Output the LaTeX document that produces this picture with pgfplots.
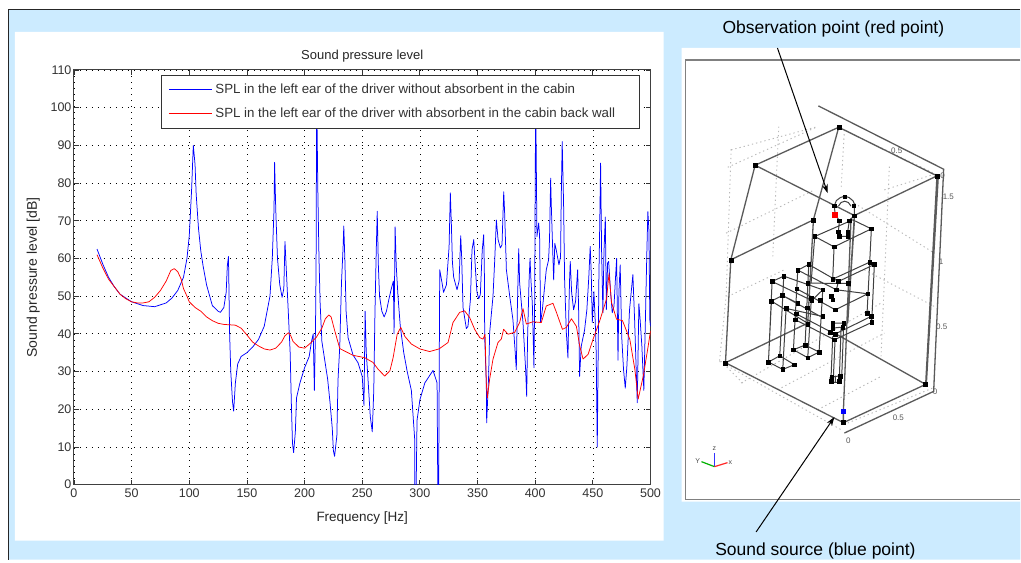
\documentclass[border=0pt]{standalone}
\usepackage{pgfplots}
\pgfplotsset{compat=1.18}
\usepackage{fontspec}
\setmainfont{Liberation Sans}
\usetikzlibrary{arrows.meta}
\definecolor{panelblue}{HTML}{CCEBFF}
\definecolor{wire}{HTML}{5A5A5A}
\definecolor{dotg}{HTML}{B8B8B8}
\begin{document}
\begin{tikzpicture}[x=1pt,y=1pt]
% page layout, in reference pixels
\begin{axis}[at={(0pt,0pt)},anchor=south west,scale only axis,width=1021pt,height=560pt,
  xmin=0,xmax=1021,ymin=0,ymax=560,y dir=reverse,hide axis,clip=false]
\addplot[fill=white,draw=none] coordinates {(0,0)(1021,0)(1021,560)(0,560)(0,0)};
\addplot[fill=panelblue,draw=none] coordinates {(8.5,10)(1021,10)(1021,560)(8.5,560)(8.5,10)};
\addplot[draw=black!85,line width=1pt] coordinates {(8.5,560)(8.5,10)(1021,10)};
\addplot[fill=white,draw=none] coordinates {(15,32)(664,32)(664,541)(15,541)(15,32)};
\addplot[fill=white,draw=none] coordinates {(682,48)(1021,48)(1021,502)(682,502)(682,48)};
\addplot[draw=gray,line width=1.5pt] coordinates {(1021,60)(686,60)(686,500)(1021,500)};
\node[font=\fontsize{17.5}{20}\selectfont] at (axis cs:834,29) {Observation point (red point)};
\node[font=\fontsize{17.5}{20}\selectfont] at (axis cs:816,551) {Sound source (blue point)};
\end{axis}
% 3D model wireframe
\begin{axis}[at={(685pt,110pt)},anchor=south west,scale only axis,width=270pt,height=360pt,
  xmin=0,xmax=810,ymin=0,ymax=1080,y dir=reverse,hide axis,clip=false,unbounded coords=jump]
\addplot[draw=dotg,line width=0.9pt,dash pattern=on 1.3pt off 3pt] coordinates {
 (130,232)(400,110)(nan,nan)(140,178)(125,620)(105,815)(nan,nan)(283,110)(265,500)(nan,nan)(463,112)(780,265)(nan,nan)
 (125,430)(390,300)(nan,nan)(130,620)(300,540)(nan,nan)(105,815)(470,1020)(nan,nan)(170,880)(590,640)(nan,nan)(280,900)(600,730)(nan,nan)
 (615,230)(590,800)(nan,nan)(510,340)(750,490)(nan,nan)(540,540)(750,650)(nan,nan)(175,880)(110,815)(nan,nan)(400,960)(590,860)(nan,nan)
 (480,120)(470,300)(nan,nan)(600,300)(760,250)(nan,nan)(490,1000)(745,895)(nan,nan)(140,180)(400,110)};
\addplot[draw=wire,line width=1.3pt] coordinates {
 (402,48)(778,238)(748,905)(480,1030)(nan,nan)(762,258)(726,884)(nan,nan)
 (212,226)(463,112)(758,258)(510,377)(212,226)(nan,nan)(212,226)(139,510)(123,819)(477,999)(724,884)(758,258)(nan,nan)
 (139,510)(387,390)(463,112)(nan,nan)(387,390)(370,700)(nan,nan)(123,819)(370,700)(nan,nan)(450,730)(724,884)(nan,nan)
 (500,385)(477,965)(477,999)(nan,nan)(510,377)(497,580)(nan,nan)(510,395)(490,700)};
\addplot[draw=black!75,line width=1pt] coordinates {
 (450,347)(456,332)(468,323)(481,319)(494,323)(506,333)(512,347)(nan,nan)(462,349)(470,338)(481,334)(492,338)(500,349)(nan,nan)
 (450,347)(452,374)(465,392)(nan,nan)(510,350)(510,377)(495,392)(nan,nan)(465,392)(462,425)(465,440)(490,440)(490,425)(495,392)(nan,nan)
 (391,440)(449,471)(561,417)(505,390)(391,440)(nan,nan)(449,471)(445,568)(nan,nan)(561,417)(556,517)(nan,nan)(391,440)(380,580)(nan,nan)
 (373,524)(340,541)(456,600)(462,575)(373,524)(nan,nan)(445,568)(556,517)(nan,nan)(462,575)(570,524)(nan,nan)(556,517)(570,524)(562,698)(nan,nan)(556,517)(548,671)(nan,nan)
 (456,600)(550,612)(nan,nan)(337,597)(453,660)(550,612)(nan,nan)(370,580)(491,581)(nan,nan)
 (263,575)(298,559)(415,600)(nan,nan)(263,575)(382,632)(415,600)(nan,nan)(261,634)(294,617)(408,680)(nan,nan)(261,634)(369,700)(nan,nan)(294,617)(340,640)(nan,nan)(305,656)(415,680)(nan,nan)
 (263,575)(252,817)(nan,nan)(298,559)(286,798)(nan,nan)(305,656)(295,839)(nan,nan)(261,634)(252,817)(nan,nan)
 (340,541)(327,780)(nan,nan)(373,524)(362,766)(nan,nan)(415,600)(404,787)(nan,nan)(380,640)(370,804)(nan,nan)
 (252,817)(286,798)(330,825)(295,839)(252,817)(nan,nan)(327,780)(362,766)(404,787)(370,804)(327,780)(nan,nan)
 (333,690)(450,750)(562,698)(nan,nan)(335,672)(452,733)(560,680)(nan,nan)(335,672)(333,690)(nan,nan)(560,680)(562,698)(nan,nan)
 (445,700)(478,700)(475,712)(445,715)(445,700)(nan,nan)(445,740)(440,862)(nan,nan)(470,715)(465,862)(nan,nan)(452,750)(447,862)(nan,nan)(478,700)(472,862)(nan,nan)
 (437,862)(472,858)(470,878)(438,878)(437,862)(nan,nan)(453,858)(453,878)};
\addplot[only marks,mark=square*,mark size=2pt,mark options={black,draw=black}] coordinates {
 (463,112)(212,226)(758,258)(139,510)(387,390)(123,819)(477,999)(724,884)};
\addplot[only marks,mark=square*,mark size=1.8pt,mark options={black,draw=black}] coordinates {
 (450,347)(481,321)(508,347)(510,377)(465,392)(495,392)(462,425)(490,425)(465,440)(490,440)
 (391,440)(449,471)(561,417)(373,524)(340,541)(445,568)(462,575)(556,517)(570,524)(491,581)(456,600)(550,612)
 (370,580)(337,597)(263,575)(298,559)(261,634)(294,617)(305,656)(415,600)(380,625)(382,632)(408,632)(441,620)(445,630)
 (340,640)(369,654)(415,680)(453,660)(335,672)(333,690)(370,703)(560,680)(548,671)(562,698)
 (445,700)(478,700)(445,715)(475,712)(437,727)(452,733)(450,750)(442,862)(467,860)(440,875)(465,875)
 (252,817)(286,798)(330,825)(295,839)(327,780)(362,766)(404,787)(370,804)};
\addplot[only marks,mark=square*,mark size=2.5pt,mark options={red,draw=red}] coordinates {(452,374)};
\addplot[only marks,mark=square*,mark size=2.2pt,mark options={blue,draw=blue}] coordinates {(477,965)};
% axis triad
\addplot[blue!80,line width=1.2pt] coordinates {(90,1131)(90,1090)};
\addplot[green!70!black,line width=1.2pt] coordinates {(90,1131)(51,1116)};
\addplot[red!85,line width=1.2pt] coordinates {(90,1131)(129,1119)};
\node[font=\fontsize{7}{8}\selectfont,text=black!70] at (axis cs:90,1076) {z};
\node[font=\fontsize{7}{8}\selectfont,text=black!70] at (axis cs:40,1114) {Y};
\node[font=\fontsize{7}{8}\selectfont,text=black!70] at (axis cs:138,1118) {x};
\node[font=\fontsize{8}{9}\selectfont,text=black!65] at (axis cs:637,183) {0.5};
\node[font=\fontsize{8}{9}\selectfont,text=black!65] at (axis cs:792,322) {1.5};
\node[font=\fontsize{8}{9}\selectfont,text=black!65] at (axis cs:770,517) {1};
\node[font=\fontsize{8}{9}\selectfont,text=black!65] at (axis cs:772,711) {0.5};
\node[font=\fontsize{8}{9}\selectfont,text=black!65] at (axis cs:752,906) {0};
\node[font=\fontsize{8}{9}\selectfont,text=black!65] at (axis cs:642,985) {0.5};
\node[font=\fontsize{8}{9}\selectfont,text=black!65] at (axis cs:492,1052) {0};
\node[font=\fontsize{8}{9}\selectfont,text=black!65] at (axis cs:775,258) {0};
\draw[black,line width=1pt,-{Stealth[length=9pt,width=6pt]}] (axis cs:279,-126) -- (axis cs:430,310);
\draw[black,line width=1pt,-{Stealth[length=9pt,width=6pt]}] (axis cs:215,1327) -- (axis cs:450,982);
\end{axis}
% the chart
\begin{axis}[at={(74pt,75pt)},anchor=south west,scale only axis,width=577pt,height=415pt,
  xmin=0,xmax=500,ymin=0,ymax=110,
  xtick={0,50,...,500},ytick={0,10,...,110},
  axis line style={draw=black!75,line width=1pt},
  tick style={draw=black!80,line width=0.8pt},
  tick align=inside,major tick length=5pt,
  grid=major,
  major grid style={draw=black,line width=0.7pt,dash pattern=on 1pt off 5pt},
  /pgf/number format/assume math mode=true,
  /pgf/number format/1000 sep={},
  tick label style={font=\fontsize{12.5}{14}\selectfont,text=black!80},
  xticklabel style={yshift=-1pt},
  yticklabel style={xshift=1pt},
  xlabel={Frequency [Hz]},ylabel={Sound pressure level [dB]},
  xlabel style={font=\fontsize{13.5}{15}\selectfont,text=black!85,at={(axis description cs:0.5,-0.08)},anchor=center},
  ylabel style={font=\fontsize{14}{16}\selectfont,text=black!85,at={(axis description cs:-0.0705,0.5)},anchor=center,rotate=0},
  title={Sound pressure level},
  every axis title shift=0pt,
  title style={font=\fontsize{13}{15}\selectfont,text=black!85,at={(axis description cs:0.5,1.034)},anchor=center},
  legend style={at={(axis cs:75.4,108.7)},anchor=north west,draw=black!80,line width=0.9pt,
    font=\fontsize{13.3}{15}\selectfont,text=black!80,
    inner xsep=7pt,inner ysep=7.5pt,row sep=9.5pt,
    nodes={inner xsep=3pt,inner ysep=1.5pt}},
  legend cell align=left,
  legend image code/.code={\draw[#1,line width=1.1pt] (0pt,0.3pt) -- (43pt,0.3pt);},
]
\addplot[blue,line width=0.75pt,line join=round] coordinates {
(20,62.5)(25,58.5)(30,55)(35,52.5)(40,50.5)(50,48.5)(60,47.5)(70,47.2)(80,48.2)(85,49.5)(90,51.5)(95,55)(98,60)(100,66)(102,78)(103.5,90)(105,85)(106,77)(108,68)(110,62)(112,58)(115,53)(120,47.5)(125,46)(127,45.7)(130,47)(132,51)(133,58)(134,60.5)(135,40)(136,30)(137.5,22)(138.5,19.5)(140,27)(142,32)(145,34)(150,35)(155,36.5)(160,38.5)(165,42)(170,50)(172,60)(173.5,73)(174,85.5)(175,73)(176.5,60)(178.5,53)(180.5,49.7)(182,52)(183,64.5)(184,58)(186,45)(187.5,35)(188.5,22)(189.5,11)(190.5,8.5)(192,14)(193,23)(196,27)(200,31)(204,34)(206,38)(207.5,40)(208.5,25)(209.5,42)(210,60)(210.5,104)(211.5,78)(212.5,60)(213.5,48)(215,38)(217,34)(220,28)(222,22)(224,15)(225,9)(226,7.5)(228,13)(229,27.8)(230.5,36.6)(232,53.5)(233.4,63)(234,68.6)(235,59)(236,46)(237.7,39)(242,34.4)(246.4,32.3)(250,28.7)(251.5,21)(252.5,46)(253.5,35)(255,28)(257,18)(258.7,14)(260,25)(261,45)(262,60)(263,72.5)(264,58)(265,50)(267,46)(269,44.5)(271,46)(273,49)(275,51.7)(277,54)(277.6,40)(278.5,68.4)(279.5,58)(281,50)(283,42)(286,35)(289,30)(292.6,25)(295.5,12)(295.7,-5)(296.6,-5)(297.5,17)(300,22.5)(304.3,27)(311.4,30.3)(314.9,27)(315.6,-5)(316.2,-5)(317.2,57)(319.5,53)(320.5,51)(323,53)(325.3,63)(326.4,77.4)(327.3,69)(328.2,59)(329.3,55)(332.2,51.7)(334,54)(335.4,66)(336.2,60.5)(337.4,47)(340.3,41.4)(341.7,42)(343.8,49)(345.2,62.3)(346.7,65)(348.2,57)(349.5,51)(351,49.3)(352.4,50.4)(354.1,62.3)(355.3,66.3)(355.9,57)(356.2,39)(357.6,27)(357.9,16.4)(359.6,28.7)(360.5,40.3)(363.4,50)(364.9,59.6)(366.3,70.2)(367.8,65)(369.8,62.8)(371.2,63.6)(372.7,77.7)(373.5,72)(375,57)(377.9,50)(380.7,43.7)(382.5,35.8)(383.6,30.5)(384.5,46.4)(385.7,62.6)(386.5,53.5)(389.4,43)(391.7,30.5)(392.6,23.4)(393.4,39)(394.6,53.5)(395.5,60)(396.3,54.3)(397.5,48)(398.9,31)(399.5,48)(400.4,104)(401.5,65.8)(403,69.4)(403.8,66)(404.7,43)(406.2,46.4)(409.6,57)(411.6,59.6)(412.4,65)(413.4,81.3)(413.9,74.7)(414.8,65.8)(416,54.3)(417,64)(418.2,62.3)(420.6,58.3)(422,60.5)(422.6,76.4)(423.4,91)(424.6,74.7)(425.5,54.3)(427,40.3)(428.4,33.6)(429.2,46.4)(429.8,54.3)(430.4,59.2)(431.6,50.9)(433.3,46.4)(435,48.6)(436.8,57)(437.6,47.3)(438.5,28.7)(439.9,36.7)(442.8,41)(444.8,46.4)(446.5,55.2)(447.7,63.2)(448.6,56)(449.5,43)(450.9,51.2)(452,43.7)(452.9,35)(453.8,10)(454.3,24.4)(455.2,54.3)(455.8,65.8)(456.7,85.3)(457.6,61.5)(458.7,45.6)(459.6,61.5)(460.8,71)(461.7,46.4)(462.8,58.8)(463.7,59.2)(465.4,50.9)(466.8,45.6)(468.3,47.3)(469.7,55.2)(470.6,60)(471.8,33)(472.6,51)(473.7,58.3)(475,39.3)(476.6,30.5)(478.1,25.6)(479.5,31.4)(481.8,46.4)(484.7,55.7)(486.2,43.7)(488.5,21.7)(489.9,48)(491,43.7)(492.5,36.7)(494.2,25)(495.7,45.6)(496.8,61.5)(497.7,72.4)(498.6,67.6)(499.4,43.7)(500,42)
};
\addlegendentry{SPL in the left ear of the driver without absorbent in the cabin}
\addplot[red,line width=0.75pt,line join=round] coordinates {
(20,61)(25,57.5)(30,54.5)(35,52.5)(40,50.5)(45,49.3)(50,48.5)(55,48.2)(60,48.2)(65,48.5)(70,49.7)(75,51.5)(80,54)(84,56.8)(87,57.3)(90,56.5)(93,54.5)(95,52)(98,50)(100,48.5)(105,47)(110,46)(115,44.5)(120,43.5)(125,42.8)(130,42.5)(140,42.3)(145,41.5)(150,39.7)(155,37.8)(160,36.8)(165,36)(170,35.7)(175,36.2)(180,37.8)(183,39.5)(186,40.3)(188,39.5)(190,38)(195,36.5)(200,36.2)(205,37.5)(210,39)(215,41.5)(218,44)(221,45)(223,44.5)(226,41)(230.5,36.1)(242,34.3)(252,33.7)(259.4,32.4)(263.8,30.6)(269.5,28.8)(274,30.2)(276.8,33.7)(280.3,39.9)(283.4,41.7)(287,39.3)(292.6,37.3)(300,36)(308.4,35.3)(316.6,36)(324.4,37.7)(328.7,43)(334.5,45.7)(338.8,46.1)(343.2,44.3)(347.5,41.2)(351.9,39)(354.8,38.6)(356.5,39.9)(357.6,27)(358.5,23)(360.5,28)(363.4,33.3)(367.7,37.7)(370.6,38.6)(372.6,41.2)(376.4,39.9)(382.2,40.4)(386.5,43)(389.4,46.7)(392.3,42.6)(398,43.2)(405.3,43)(409.6,47.4)(415.4,48.1)(418.4,45.7)(423.6,41.2)(427,41.7)(431.4,44)(435.7,42)(438.6,36.8)(441.5,33.3)(445.9,34.6)(450.2,38.6)(456,43.5)(461.8,49.2)(464,56)(466.2,48.3)(470.5,43.9)(475.7,43.5)(482,38.6)(486.4,30.6)(489.3,22.7)(493.7,28.8)(498,36.8)(500,40.8)
};
\addlegendentry{SPL in the left ear of the driver with absorbent in the cabin back wall\hspace*{14pt}}
\end{axis}
\end{tikzpicture}
\end{document}
